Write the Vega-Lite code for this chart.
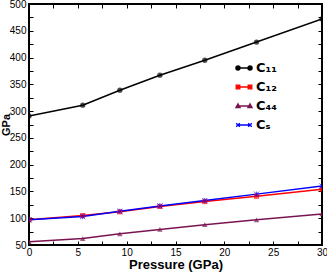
{
  "$schema": "https://vega.github.io/schema/vega-lite/v6.json",
  "autosize": {"type": "none"},
  "width": 293,
  "height": 241,
  "padding": {"left": 29, "top": 4, "right": 5, "bottom": 28},
  "background": "white",
  "config": {
    "font": "Liberation Sans",
    "view": {"stroke": "black", "strokeWidth": 2},
    "axis": {"domain": false, "grid": false, "labelFont": "Liberation Sans", "labelFontSize": 10, "labelColor": "black", "tickColor": "black", "tickSize": -4, "titleFont": "Liberation Sans", "titleFontWeight": "bold", "titleFontSize": 13, "titleColor": "black"}
  },
  "data": {"values": [
    {"p": 0, "v": 291, "s": "C₁₁"}, {"p": 5.5, "v": 311, "s": "C₁₁"}, {"p": 9.3, "v": 339, "s": "C₁₁"}, {"p": 13.4, "v": 367, "s": "C₁₁"}, {"p": 18.0, "v": 395, "s": "C₁₁"}, {"p": 23.3, "v": 429, "s": "C₁₁"}, {"p": 30, "v": 472, "s": "C₁₁"},
    {"p": 0, "v": 97, "s": "C₁₂"}, {"p": 5.5, "v": 105, "s": "C₁₂"}, {"p": 9.3, "v": 112, "s": "C₁₂"}, {"p": 13.4, "v": 122, "s": "C₁₂"}, {"p": 18.0, "v": 131, "s": "C₁₂"}, {"p": 23.3, "v": 141, "s": "C₁₂"}, {"p": 30, "v": 154, "s": "C₁₂"},
    {"p": 0, "v": 56, "s": "C₄₄"}, {"p": 5.5, "v": 62, "s": "C₄₄"}, {"p": 9.3, "v": 71, "s": "C₄₄"}, {"p": 13.4, "v": 79, "s": "C₄₄"}, {"p": 18.0, "v": 88, "s": "C₄₄"}, {"p": 23.3, "v": 97, "s": "C₄₄"}, {"p": 30, "v": 108, "s": "C₄₄"},
    {"p": 0, "v": 97, "s": "Cₛ"}, {"p": 5.5, "v": 103, "s": "Cₛ"}, {"p": 9.3, "v": 113, "s": "Cₛ"}, {"p": 13.4, "v": 123, "s": "Cₛ"}, {"p": 18.0, "v": 133, "s": "Cₛ"}, {"p": 23.3, "v": 145, "s": "Cₛ"}, {"p": 30, "v": 160, "s": "Cₛ"}
  ]},
  "layer": [
    {
      "mark": {"type": "line", "strokeWidth": 1.5, "clip": true},
      "encoding": {
        "x": {"field": "p", "type": "quantitative", "scale": {"domain": [0, 30], "nice": false}, "axis": {"orient": "bottom", "title": "Pressure (GPa)", "values": [0, 2.5, 5, 7.5, 10, 12.5, 15, 17.5, 20, 22.5, 25, 27.5, 30], "labelExpr": "datum.value % 5 == 0 ? datum.label : ''", "labelPadding": 6, "titlePadding": 1, "labelFlush": false}},
        "y": {"field": "v", "type": "quantitative", "scale": {"domain": [50, 500], "nice": false, "zero": false}, "axis": {"orient": "left", "title": "GPa", "titleFontSize": 11, "values": [50, 75, 100, 125, 150, 175, 200, 225, 250, 275, 300, 325, 350, 375, 400, 425, 450, 475, 500], "labelExpr": "datum.value % 50 == 0 ? datum.label : ''", "labelPadding": 7, "titlePadding": -2, "labelFlush": false}},
        "color": {"field": "s", "type": "nominal", "scale": {"domain": ["C₁₁", "C₁₂", "C₄₄", "Cₛ"], "range": ["#000000", "#ff0000", "#7a1450", "#0000ff"]},
          "legend": {"title": null, "orient": "none", "legendX": 208, "legendY": 57, "symbolSize": 144, "labelFontSize": 13, "labelFontWeight": "bold", "labelFont": "DejaVu Sans", "rowPadding": 5, "labelOffset": 5,
            "encode": {"symbols": {"update": {
              "shape": {"signal": "datum.value == 'C₁₁' ? 'M-1,0L1,0M-1.35,0a0.35,0.35 0 1,0 0.7,0a0.35,0.35 0 1,0 -0.7,0M0.65,0a0.35,0.35 0 1,0 0.7,0a0.35,0.35 0 1,0 -0.7,0' : datum.value == 'C₁₂' ? 'M-1,0L1,0M-1.3,-0.3L-0.7,-0.3L-0.7,0.3L-1.3,0.3ZM0.7,-0.3L1.3,-0.3L1.3,0.3L0.7,0.3Z' : datum.value == 'C₄₄' ? 'M-1,0L1,0M-1.35,0.25L-1,-0.35L-0.65,0.25ZM0.65,0.25L1,-0.35L1.35,0.25Z' : 'M-1,0L1,0M-1.3,-0.3L-0.7,0.3M-1.3,0.3L-0.7,-0.3M0.7,-0.3L1.3,0.3M0.7,0.3L1.3,-0.3'"},
              "fill": {"scale": "color", "field": "value"},
              "stroke": {"scale": "color", "field": "value"},
              "strokeWidth": {"value": 1.3},
              "opacity": {"value": 1}
            }}}}}
      }
    },
    {
      "transform": [{"filter": "datum.s == 'C₁₁'"}],
      "mark": {"type": "point", "shape": "circle", "filled": true, "size": 28, "color": "#000000", "clip": true},
      "encoding": {
        "x": {"field": "p", "type": "quantitative", "axis": {"orient": "top", "title": null, "labels": false, "values": [0, 2.5, 5, 7.5, 10, 12.5, 15, 17.5, 20, 22.5, 25, 27.5, 30]}},
        "y": {"field": "v", "type": "quantitative", "axis": {"orient": "right", "title": null, "labels": false, "values": [50, 75, 100, 125, 150, 175, 200, 225, 250, 275, 300, 325, 350, 375, 400, 425, 450, 475, 500]}}
      }
    },
    {
      "transform": [{"filter": "datum.s == 'C₁₂'"}],
      "mark": {"type": "point", "shape": "square", "filled": true, "size": 26, "color": "#ff0000", "clip": true},
      "encoding": {
        "x": {"field": "p", "type": "quantitative", "axis": null},
        "y": {"field": "v", "type": "quantitative", "axis": null}
      }
    },
    {
      "transform": [{"filter": "datum.s == 'C₄₄'"}],
      "mark": {"type": "point", "shape": "triangle-up", "filled": true, "size": 30, "color": "#7a1450", "clip": true},
      "encoding": {
        "x": {"field": "p", "type": "quantitative", "axis": null},
        "y": {"field": "v", "type": "quantitative", "axis": null}
      }
    },
    {
      "transform": [{"filter": "datum.s == 'Cₛ'"}],
      "mark": {"type": "point", "shape": "M-1,-1L1,1M-1,1L1,-1M0,-1L0,1", "filled": false, "size": 26, "strokeWidth": 1, "color": "#0000ff", "clip": true},
      "encoding": {
        "x": {"field": "p", "type": "quantitative", "axis": null},
        "y": {"field": "v", "type": "quantitative", "axis": null}
      }
    }
  ]
}
